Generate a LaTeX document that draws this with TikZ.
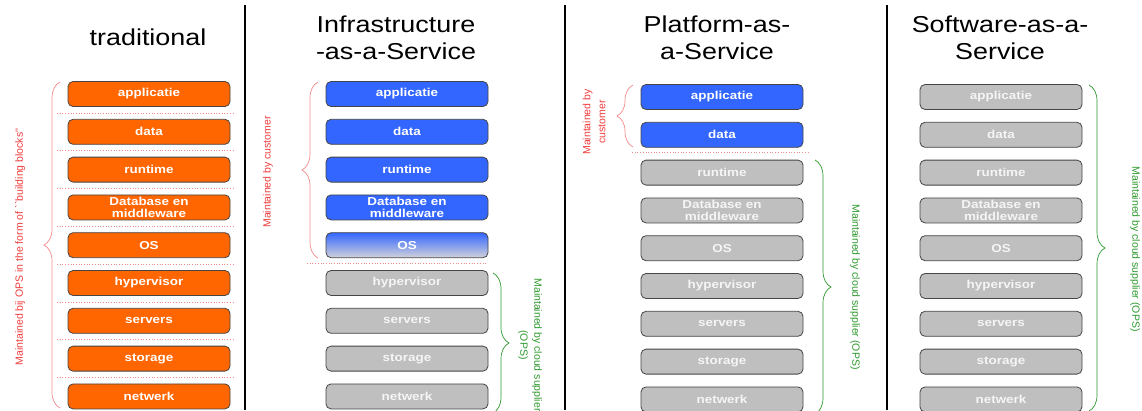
\documentclass[tikz,border=0pt]{standalone}
\usepackage{fontspec}
\setmainfont{Liberation Sans}[FakeStretch=1.17]
\newfontfamily\sidefont{Liberation Sans}
\usetikzlibrary{decorations.pathreplacing}

\definecolor{opsorange}{HTML}{FF6600}
\definecolor{custblue}{HTML}{3366FF}
\definecolor{cloudgray}{HTML}{BFBFBF}
\definecolor{fadegray}{HTML}{D2D2DA}
\definecolor{edgegray}{HTML}{454545}
\definecolor{custred}{HTML}{F03C3C}
\definecolor{bracered}{HTML}{F28A8A}
\definecolor{cloudgreen}{HTML}{2E9A2E}

\tikzset{
  layer/.style = {draw=edgegray, line width=0.8pt, rounded corners=5pt,
    minimum width=162pt, minimum height=25pt, inner sep=0pt, align=center,
    text=white, font=\fontsize{11.5}{12}\selectfont\bfseries},
  opslayer/.style = {layer, fill=opsorange},
  custlayer/.style = {layer, fill=custblue},
  fadelayer/.style = {layer, top color=custblue, bottom color=fadegray},
  cloudlayer/.style = {layer, fill=cloudgray, text=white!96!black},
  title/.style = {align=center, font=\fontsize{23}{27}\selectfont},
  sepline/.style = {bracered, dotted, line width=0.7pt},
  redbrace/.style = {bracered, line width=0.7pt, decorate, decoration={brace, amplitude=16pt}},
  greenbrace/.style = {cloudgreen, line width=0.7pt, decorate, decoration={brace, amplitude=16pt}},
  redlabel/.style = {custred, align=center, font=\sidefont\fontsize{10.5}{15}\selectfont},
  greenlabel/.style = {cloudgreen, align=center, font=\sidefont\fontsize{10.5}{14}\selectfont}
}

\begin{document}
\begin{tikzpicture}[x=1pt, y=-1pt]
\useasboundingbox (0,0) rectangle (1142,410);
\clip (0,0) rectangle (1142,410);

% column dividers
\draw[black, line width=2pt] (245,5) -- (245,410);
\draw[black, line width=2pt] (565,5) -- (565,410);
\draw[black, line width=2pt] (887,5) -- (887,410);

% titles
\node[title] (trad) at (148,37) {traditional};
\node[title] (iaas) at (396,37.5) {Infrastructure\\-as-a-Service};
\node[title] (paas) at (717,37.5) {Platform-as-\\a-Service};
\node[title] (saas) at (1000,37.5) {Software-as-a-\\Service};

% traditional stack
\foreach \lbl [count=\i] in {applicatie, data, runtime, {Database en\\middleware}, OS, hypervisor, servers, storage, netwerk}
  \node[opslayer] (t\i) at (149, {94+37.8*(\i-1)}) {\lbl};
\foreach \i in {1,...,8}
  \draw[sepline] (57, {94+37.8*(\i-0.5)}) -- (235, {94+37.8*(\i-0.5)});
\draw[redbrace] (60,408) -- (60,82);
\node[redlabel, rotate=90] (tops) at (20,247) {Maintained bij OPS in the form of ``building blocks''};

% IaaS stack
\foreach \lbl/\kind [count=\i] in {applicatie/custlayer, data/custlayer, runtime/custlayer, {Database en\\middleware}/custlayer, OS/fadelayer, hypervisor/cloudlayer, servers/cloudlayer, storage/cloudlayer, netwerk/cloudlayer}
  \node[\kind] (i\i) at (407, {94+37.8*(\i-1)}) {\lbl};
\draw[sepline] (307,263) -- (486,263);
\draw[redbrace] (318,258) -- (318,82);
\node[redlabel, rotate=90] (icust) at (268,172) {Maintained by customer};
\draw[greenbrace] (493,273) -- (493,413);
\node[greenlabel, rotate=-90] (iops) at (530,345) {Maintained by cloud supplier\\(OPS)};

% PaaS stack
\foreach \lbl/\kind [count=\i] in {applicatie/custlayer, data/custlayer, runtime/cloudlayer, {Database en\\middleware}/cloudlayer, OS/cloudlayer, hypervisor/cloudlayer, servers/cloudlayer, storage/cloudlayer, netwerk/cloudlayer}
  \node[\kind] (p\i) at (722, {97+37.8*(\i-1)}) {\lbl};
\draw[sepline] (632,152) -- (808,152);
\draw[redbrace] (633,147) -- (633,85);
\node[redlabel, rotate=90] (pcust) at (594,122) {Maintained by\\customer};
\draw[greenbrace] (815,160) -- (815,414);
\node[greenlabel, rotate=-90] (pops) at (855,287) {Maintained by cloud supplier (OPS)};

% SaaS stack
\foreach \lbl [count=\i] in {applicatie, data, runtime, {Database en\\middleware}, OS, hypervisor, servers, storage, netwerk}
  \node[cloudlayer] (s\i) at (1001, {97+37.8*(\i-1)}) {\lbl};
\draw[greenbrace] (1089,85) -- (1089,411);
\node[greenlabel, rotate=-90] (sops) at (1135,249) {Maintained by cloud supplier (OPS)};
\end{tikzpicture}
\end{document}
